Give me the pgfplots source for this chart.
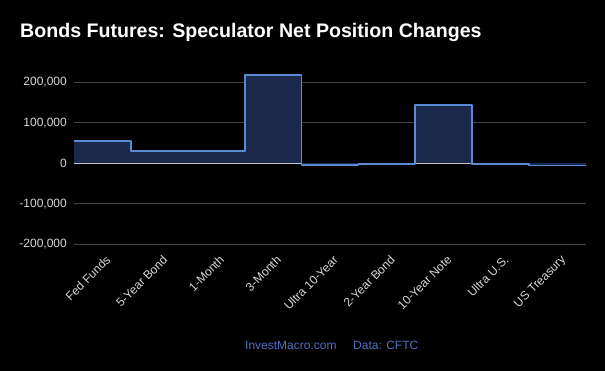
\documentclass[border=0pt]{standalone}
\usepackage{pgfplots}
\pgfplotsset{compat=1.18}
\usepackage{fontspec}
\setmainfont{Liberation Sans}
\definecolor{linecol}{RGB}{88,138,214}
\definecolor{fillcol}{RGB}{27,42,76}
\definecolor{gridcol}{RGB}{68,68,68}
\definecolor{ticktext}{RGB}{215,215,215}
\definecolor{footcol}{RGB}{80,112,192}
\begin{document}
\begin{tikzpicture}
\fill[black] (0,0) rectangle (605pt,371pt);
\node[anchor=base west, inner sep=0pt, text=white, font=\fontsize{19.6}{22}\selectfont\bfseries] at (20pt,333.7pt) {Bonds Futures: Speculator Net Position Changes};
\begin{axis}[
  at={(74pt,127pt)}, anchor=south west,
  scale only axis, width=512pt, height=169.7pt,
  xmin=0, xmax=9, ymin=-200000, ymax=220000,
  axis line style={draw=none},
  major tick length=0pt,
  ytick={-200000,-100000,100000,200000},
  extra y ticks={0},
  extra y tick style={grid style={draw=white!85!black, line width=0.8pt}},
  ymajorgrids, grid style={draw=gridcol, line width=0.6pt},
  /pgf/number format/assume math mode=true,
  /pgf/number format/fixed,
  /pgf/number format/1000 sep={,},
  scaled y ticks=false,
  yticklabel style={anchor=east, inner sep=0pt, xshift=-7pt, text=ticktext, font=\fontsize{12}{14}\selectfont},
  xtick={0.545,1.545,2.545,3.545,4.545,5.545,6.545,7.545,8.545},
  xticklabels={Fed Funds,5-Year Bond,1-Month,3-Month,Ultra 10-Year,2-Year Bond,10-Year Note,Ultra U.S.,US Treasury},
  xticklabel style={yshift=-10.5pt, rotate=45, anchor=north east, inner sep=0pt, text=ticktext, font=\fontsize{12}{14}\selectfont},
  clip=false,
]
\addplot[const plot, fill=fillcol, draw=none] coordinates {
 (0,0) (0,54600) (1,29500) (2,31000) (3,219000) (4,-4000) (5,-2500) (6,144000) (7,-2500) (8,-5500) (9,-5500) (9,0)} -- cycle;
\addplot[const plot, draw=linecol, line width=1.8pt, line join=round] coordinates {
 (0,54600) (1,29500) (2,31000) (3,219000) (4,-4000) (5,-2500) (6,144000) (7,-2500) (8,-5500) (9,-5500)};
\end{axis}
\node[anchor=base west, inner sep=0pt, text=footcol, font=\fontsize{12}{14}\selectfont] at (245pt,21.5pt) {InvestMacro.com};
\node[anchor=base west, inner sep=0pt, text=footcol, font=\fontsize{12}{14}\selectfont] at (353pt,21.5pt) {Data: CFTC};
\pgfresetboundingbox
\path (0,0) rectangle (605pt,371pt);
\end{tikzpicture}
\end{document}
